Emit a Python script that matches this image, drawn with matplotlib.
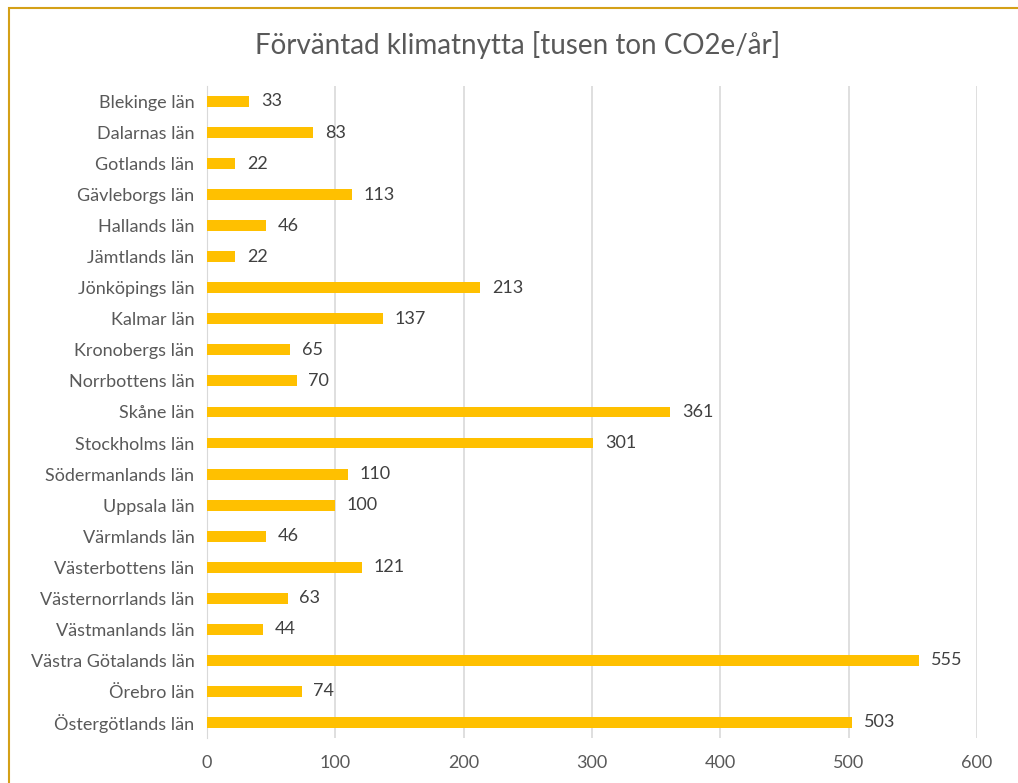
import matplotlib.pyplot as plt
from matplotlib.patches import Rectangle

plt.rcParams['font.family'] = ['Lato', 'DejaVu Sans']

lan = ["Blekinge län", "Dalarnas län", "Gotlands län", "Gävleborgs län", "Hallands län",
       "Jämtlands län", "Jönköpings län", "Kalmar län", "Kronobergs län", "Norrbottens län",
       "Skåne län", "Stockholms län", "Södermanlands län", "Uppsala län", "Värmlands län",
       "Västerbottens län", "Västernorrlands län", "Västmanlands län", "Västra Götalands län",
       "Örebro län", "Östergötlands län"]
nytta = [33, 83, 22, 113, 46, 22, 213, 137, 65, 70, 361, 301, 110, 100, 46, 121, 63, 44, 555, 74, 503]
xticks = [0, 100, 200, 300, 400, 500, 600]

fig = plt.figure(figsize=(10.18, 7.83), dpi=100)
ax = fig.add_axes([0.2033, 0.0575, 0.7564, 0.8327])

y = list(range(len(lan)))
ax.barh(y, nytta, height=0.35, color='#ffc000', zorder=3)
for yi, v in zip(y, nytta):
    ax.text(v + 9, yi, str(v), va='center', ha='left', fontsize=13, color='#404040')

ax.set_yticks(y)
ax.set_yticklabels(lan, fontsize=13, color='#595959')
ax.set_ylim(len(lan) - 0.5, -0.5)
ax.set_xlim(0, 600)
ax.set_xticks(xticks)
ax.set_xticklabels([str(t) for t in xticks], fontsize=13, color='#595959')
ax.tick_params(length=0, pad=12)
ax.tick_params(axis='y', pad=9)
ax.grid(axis='x', color='#d9d9d9', linewidth=1.2, zorder=0)
for s in ['top', 'right', 'bottom']:
    ax.spines[s].set_visible(False)
ax.spines['left'].set_color('#d9d9d9')

fig.text(0.508, 0.942, "Förväntad klimatnytta [tusen ton CO2e/år]", ha='center', va='center',
         fontsize=20, color='#595959')

fig.patches.append(Rectangle((9 / 1018, -0.05), 1.1, 1 - 8 / 783 + 0.05, transform=fig.transFigure,
                             fill=False, edgecolor='#d4a017', linewidth=1.5))

fig.savefig('out.png', dpi=100)
